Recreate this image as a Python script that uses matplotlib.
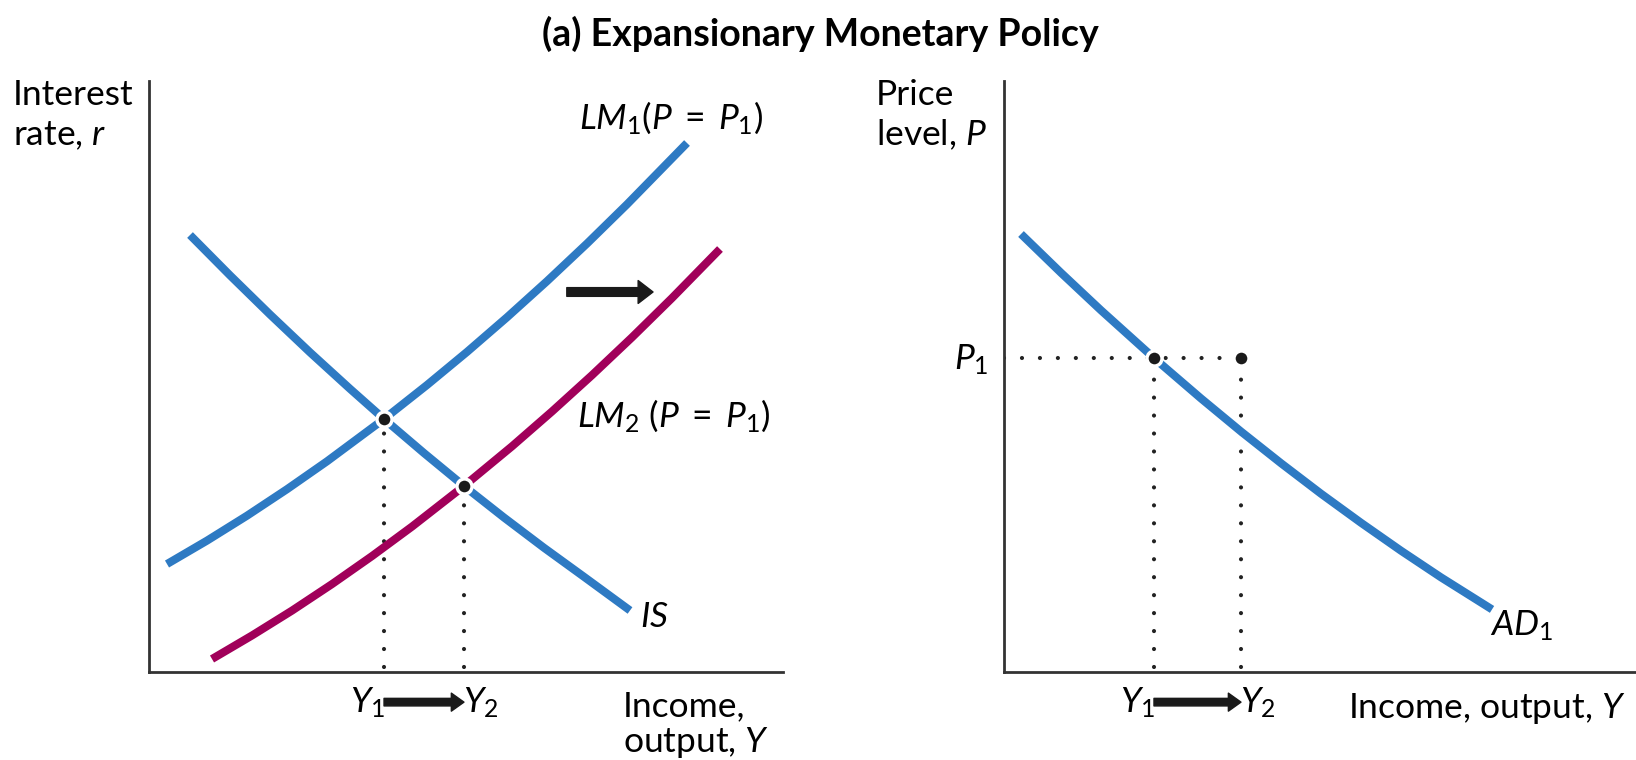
import numpy as np
import matplotlib
matplotlib.use("Agg")
import matplotlib.pyplot as plt

plt.rcParams['font.family'] = ['Lato', 'DejaVu Sans']
plt.rcParams['mathtext.fontset'] = 'custom'
plt.rcParams['mathtext.rm'] = 'Lato'
plt.rcParams['mathtext.it'] = 'Lato:italic'
plt.rcParams['mathtext.bf'] = 'Lato:bold'

# IS-LM panel (axis units 0..100)
lm1_x = [2.84, 9.15, 15.46, 21.77, 28.08, 37.07, 43.85, 50.16, 56.47, 62.78, 69.09, 75.39, 84.86]
lm1_y = [18.27, 22.23, 26.45, 30.93, 35.65, 42.81, 48.56, 54.16, 60.02, 66.13, 72.50, 79.12, 89.51]
lm2_x = [9.94, 16.25, 22.56, 28.86, 35.17, 41.48, 49.68, 57.26, 63.56, 69.87, 76.18, 82.49, 90.06]
lm2_y = [2.20, 6.18, 10.39, 14.87, 19.61, 24.60, 31.47, 38.19, 44.08, 50.22, 56.62, 63.27, 71.57]
is_x = [6.47, 12.78, 19.09, 25.39, 31.70, 37.07, 43.38, 49.68, 55.99, 62.30, 68.61, 75.87]
is_y = [73.94, 67.11, 60.49, 54.09, 47.92, 42.81, 37.04, 31.47, 26.14, 21.02, 16.11, 10.41]
eq_y = [37.07, 49.68]      # Y1, Y2
eq_r = [42.81, 31.47]      # r at each equilibrium
shift_x = [65.9, 79.5]     # LM shift arrow
shift_y = 64.3

# AD panel
ad_x = [2.69, 9.02, 15.35, 23.73, 31.17, 37.50, 43.83, 50.16, 56.49, 62.82, 69.15, 77.22]
ad_y = [74.11, 67.55, 61.20, 53.13, 46.29, 40.69, 35.33, 30.17, 25.25, 20.52, 16.01, 10.59]
ad_out = [23.73, 37.50]    # Y1, Y2
p1 = 53.13

BLUE = '#2E7AC3'
PURPLE = '#A1005A'
AXC = '#333333'
W, H = 1636, 760
FS = 25.5

fig = plt.figure(figsize=(W / 100, H / 100), dpi=100)


def fx(px):
    return px / W


def fy(py):
    return 1 - py / H


ax1 = fig.add_axes([fx(149), fy(672), fx(783) - fx(149), fy(81) - fy(672)])
ax2 = fig.add_axes([fx(1004), fy(672), fx(1636) - fx(1004), fy(81) - fy(672)])

for ax in (ax1, ax2):
    ax.set_xlim(0, 100)
    ax.set_ylim(0, 100)
    for s in ('top', 'right'):
        ax.spines[s].set_visible(False)
    for s in ('left', 'bottom'):
        ax.spines[s].set_color(AXC)
        ax.spines[s].set_linewidth(2)
    ax.set_xticks([])
    ax.set_yticks([])
    ax.patch.set_alpha(0)

dot_kw = dict(color='#222222', lw=3.0, linestyle=(0, (0.01, 4.3)),
              dash_capstyle='round', zorder=2)
curve_kw = dict(lw=5.8, solid_capstyle='butt', solid_joinstyle='round', zorder=3)
pt_kw = dict(marker='o', ms=10.8, mfc='#1a1a1a', mec='white', mew=2.4,
             linestyle='none', zorder=5)
arr_big = dict(arrowstyle='simple,head_length=0.65,head_width=1.0,tail_width=0.38',
               color='#1a1a1a', shrinkA=0, shrinkB=0, mutation_scale=16.5)
arr_small = dict(arrowstyle='simple,head_length=0.7,head_width=1.0,tail_width=0.42',
                 color='#1a1a1a', shrinkA=0, shrinkB=0, mutation_scale=13)

# --- left panel: IS-LM ---
for yv, rv in zip(eq_y, eq_r):
    ax1.plot([yv, yv], [0.8, rv], **dot_kw)
ax1.plot(lm1_x, lm1_y, color=BLUE, **curve_kw)
ax1.plot(lm2_x, lm2_y, color=PURPLE, **curve_kw)
ax1.plot(is_x, is_y, color=BLUE, **curve_kw)
ax1.plot(eq_y, eq_r, **pt_kw)
ax1.annotate('', xy=(shift_x[1], shift_y), xytext=(shift_x[0], shift_y),
             arrowprops=arr_big)
ax1.annotate('', xy=(eq_y[1], -5.1), xytext=(eq_y[0], -5.1),
             arrowprops=arr_small, annotation_clip=False)

ax1.text(eq_y[0] + 0.2, -6.9, '$Y_1$', fontsize=FS, ha='right', va='baseline', clip_on=False)
ax1.text(eq_y[1] - 0.2, -6.9, '$Y_2$', fontsize=FS, ha='left', va='baseline', clip_on=False)
ax1.text(67.9, 92.0, '$LM_1(P\\;=\\;P_1)$', fontsize=FS, ha='left', va='baseline')
ax1.text(67.5, 41.6, '$LM_2\\ (P\\;=\\;P_1)$', fontsize=FS, ha='left', va='baseline', clip_on=False)
ax1.text(77.4, 7.6, '$IS$', fontsize=FS, ha='left', va='baseline')

fig.text(fx(13), fy(105), 'Interest', fontsize=FS, ha='left', va='baseline')
fig.text(fx(13), fy(145), 'rate, $r$', fontsize=FS, ha='left', va='baseline')
fig.text(fx(623), fy(716), 'Income,', fontsize=FS, ha='left', va='baseline')
fig.text(fx(623), fy(752), 'output, $Y$', fontsize=FS, ha='left', va='baseline')

# --- right panel: AD ---
ax2.plot([0, ad_out[1]], [p1, p1], **dot_kw)
for yv in ad_out:
    ax2.plot([yv, yv], [0.8, p1], **dot_kw)
ax2.plot(ad_x, ad_y, color=BLUE, **curve_kw)
ax2.plot(ad_out, [p1, p1], **pt_kw)
ax2.annotate('', xy=(ad_out[1], -5.1), xytext=(ad_out[0], -5.1),
             arrowprops=arr_small, annotation_clip=False)
ax2.text(ad_out[0] + 0.2, -6.9, '$Y_1$', fontsize=FS, ha='right', va='baseline', clip_on=False)
ax2.text(ad_out[1] - 0.2, -6.9, '$Y_2$', fontsize=FS, ha='left', va='baseline', clip_on=False)
ax2.text(76.9, 6.1, '$AD_1$', fontsize=FS, ha='left', va='baseline')
ax2.text(-2.5, p1 - 2.0, '$P_1$', fontsize=FS, ha='right', va='baseline', clip_on=False)

fig.text(fx(876), fy(105), 'Price', fontsize=FS, ha='left', va='baseline')
fig.text(fx(876), fy(145), 'level, $P$', fontsize=FS, ha='left', va='baseline')
fig.text(fx(1348), fy(718), 'Income, output, $Y$', fontsize=FS, ha='left', va='baseline')

fig.text(fx(820), fy(46), '(a) Expansionary Monetary Policy', fontsize=27,
         fontweight='bold', ha='center', va='baseline')

fig.savefig('out.png', dpi=100)
